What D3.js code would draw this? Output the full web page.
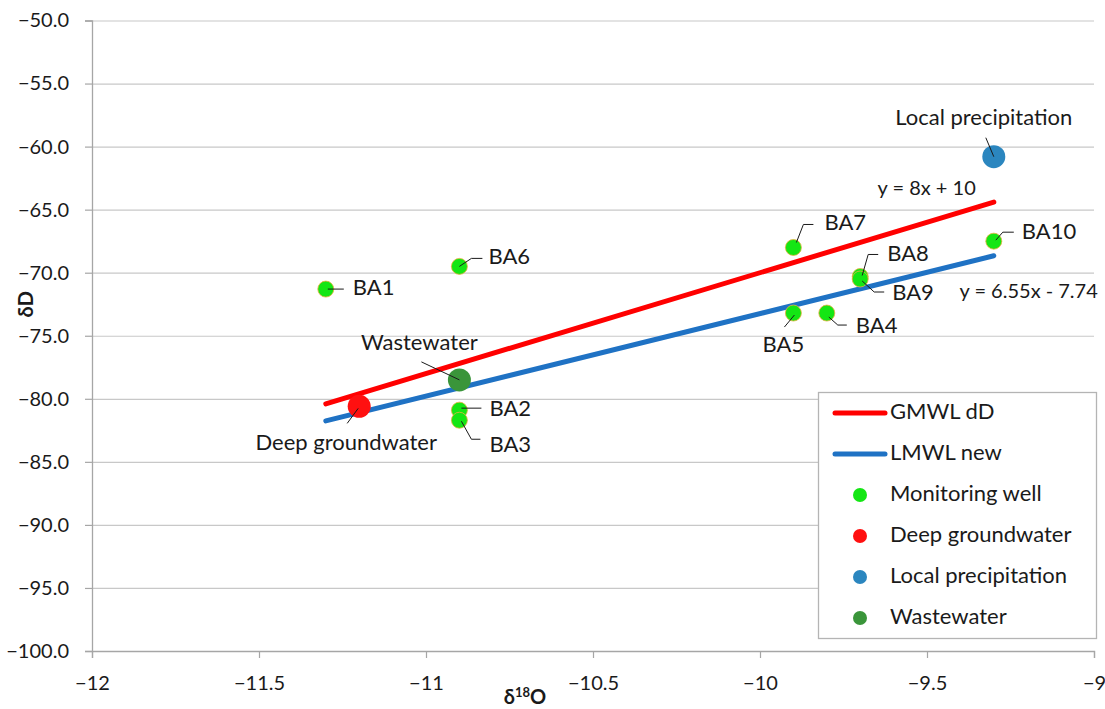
<!DOCTYPE html>
<html>
<head>
<meta charset="utf-8">
<script src="https://cdn.jsdelivr.net/npm/d3@7"></script>
<style>
  body { margin: 0; background: #fff; }
  svg { display: block; font-family: Lato, "Noto Sans", sans-serif; }
</style>
</head>
<body>
<svg id="chart" width="1105" height="709"></svg>
<script>
// Stable isotope samples: δ18O (x) vs δD (y)
const wellNames = ["BA1", "BA2", "BA3", "BA4", "BA5", "BA6", "BA7", "BA8", "BA9", "BA10"];
const wellO18   = [-11.3, -10.9, -10.9, -9.8, -9.9, -10.9, -9.9, -9.7, -9.7, -9.3];
const wellD     = [-71.3, -80.9, -81.7, -73.2, -73.2, -69.5, -68.0, -70.3, -70.5, -67.5];

const endNames = ["Deep groundwater", "Local precipitation", "Wastewater"];
const endO18   = [-11.2, -9.3, -10.9];
const endD     = [-80.6, -60.8, -78.5];

// Meteoric water lines: slope, intercept, x range
const lineNames      = ["GMWL dD", "LMWL new"];
const lineSlopes     = [8, 6.55];
const lineIntercepts = [10, -7.74];
const lineRange      = [-11.3, -9.3];
const lineEquations  = ["y = 8x + 10", "y = 6.55x - 7.74"];

const xTicks = [-12, -11.5, -11, -10.5, -10, -9.5, -9];
const yTicks = [-50, -55, -60, -65, -70, -75, -80, -85, -90, -95, -100];

// ---- styling ----
const colors = {
  "GMWL dD": "#ff0000",
  "LMWL new": "#1f72c4",
  "Monitoring well": "#14e614",
  "Deep groundwater": "#ff1010",
  "Local precipitation": "#2b86bf",
  "Wastewater": "#3a953a"
};
const textColor = "#1a1a1a";
const labelSize = 22;

const svg = d3.select("#chart");
const margin = { left: 92, right: 11, top: 20.5, bottom: 58 };
const W = 1105, H = 709;

const x = d3.scaleLinear().domain([-12, -9]).range([margin.left, W - margin.right]);
const y = d3.scaleLinear().domain([-100, -50]).range([H - margin.bottom, margin.top]);

const minus = s => s.replace(/^[-−]/, "−");

// gridlines
svg.append("g").selectAll("line").data(yTicks.slice(0, -1)).join("line")
  .attr("x1", x(-12)).attr("x2", x(-9))
  .attr("y1", d => y(d) + 0.5).attr("y2", d => y(d) + 0.5)
  .attr("stroke", "#c8c8c8").attr("stroke-width", 1.2);

// y axis
const yAxis = svg.append("g").attr("transform", `translate(${x(-12)},0)`)
  .call(d3.axisLeft(y).tickValues(yTicks).tickSize(7).tickPadding(16)
    .tickFormat(d => minus(d3.format(".1f")(d))));
yAxis.select(".domain").attr("stroke", "#a6a6a6").attr("stroke-width", 1.3);
yAxis.selectAll(".tick line").attr("stroke", "#a6a6a6").attr("stroke-width", 1.2);
yAxis.selectAll(".tick text").attr("font-size", 20).attr("fill", textColor)
  .attr("font-family", "Lato, sans-serif");

// x axis
const xAxis = svg.append("g").attr("transform", `translate(0,${y(-100)})`)
  .call(d3.axisBottom(x).tickValues(xTicks).tickSize(7).tickPadding(18)
    .tickFormat(d => minus(String(d))));
xAxis.select(".domain").attr("stroke", "#a6a6a6").attr("stroke-width", 1.3);
xAxis.selectAll(".tick line").attr("stroke", "#a6a6a6").attr("stroke-width", 1.2);
xAxis.selectAll(".tick text").attr("font-size", 20).attr("fill", textColor)
  .attr("font-family", "Lato, sans-serif");

// axis titles
svg.append("text")
  .attr("transform", `translate(33,${(y(-70) + y(-75)) / 2}) rotate(-90)`)
  .attr("text-anchor", "middle").attr("font-size", 20).attr("font-weight", "bold")
  .attr("fill", textColor).text("δD");
const xt = svg.append("text").attr("x", 525).attr("y", 704)
  .attr("text-anchor", "middle").attr("font-size", 20).attr("font-weight", "bold")
  .attr("fill", textColor);
xt.append("tspan").text("δ");
xt.append("tspan").attr("font-size", 13).attr("dy", -7).text("18");
xt.append("tspan").attr("dy", 7).text("O");

// meteoric water lines
lineNames.forEach((name, i) => {
  const pts = lineRange.map(v => [v, lineSlopes[i] * v + lineIntercepts[i]]);
  svg.append("path")
    .attr("d", d3.line().x(d => x(d[0])).y(d => y(d[1]))(pts))
    .attr("stroke", colors[name]).attr("stroke-width", 5)
    .attr("stroke-linecap", "round").attr("fill", "none");
});

// equation labels, anchored near the upper end of each line
const eqPlace = [{ dy: -12, nudge: -18 }, { dy: 37, nudge: 104 }];
lineEquations.forEach((t, i) => {
  const xe = lineRange[1];
  const ye = lineSlopes[i] * xe + lineIntercepts[i];
  svg.append("text")
    .attr("x", x(xe) + eqPlace[i].nudge).attr("y", y(ye) + eqPlace[i].dy)
    .attr("text-anchor", "end").attr("dominant-baseline", "middle")
    .attr("font-size", 20).attr("fill", textColor).text(t);
});

// label leader lines and text placement (pixel offsets from the point)
const wellLabel = {
  BA1:  { path: [[2, 0], [18, 0]], tx: 27, ty: 0 },
  BA2:  { path: [[2, -2], [22, -2]], tx: 30, ty: 0 },
  BA3:  { path: [[2, 1], [12, 19], [21, 19]], tx: 30, ty: 26 },
  BA4:  { path: [[2, 4], [11, 12], [20, 12]], tx: 29, ty: 14 },
  BA5:  { path: [[1, 2], [-9, 14]], tx: -10, ty: 33, anchor: "middle" },
  BA6:  { path: [[0, 0], [12, -8], [23, -8]], tx: 29, ty: -8 },
  BA7:  { path: [[3, -5], [10, -23], [20, -23]], tx: 31, ty: -23 },
  BA8:  { path: [[2, -1], [8, -22], [18, -22]], tx: 27, ty: -21 },
  BA9:  { path: [[2, 2], [14, 13], [24, 13]], tx: 32, ty: 15 },
  BA10: { path: [[2, -1], [9, -9], [20, -9]], tx: 28, ty: -8 }
};
const endLabel = {
  "Deep groundwater":    { path: [[-1, 2], [-12, 17]], tx: -13, ty: 38, anchor: "middle" },
  "Local precipitation": { path: [[0, 0], [-8, -19]], tx: -10, ty: -37, anchor: "middle" },
  "Wastewater":          { path: [[0, 0], [-38, -18]], tx: -40, ty: -35, anchor: "middle" }
};

function drawLabel(px, py, spec, text) {
  svg.append("path")
    .attr("d", d3.line()(spec.path.map(p => [px + p[0], py + p[1]])))
    .attr("stroke", textColor).attr("stroke-width", 1).attr("fill", "none");
  svg.append("text")
    .attr("x", px + spec.tx).attr("y", py + spec.ty)
    .attr("text-anchor", spec.anchor || "start").attr("dominant-baseline", "middle")
    .attr("font-size", labelSize).attr("fill", textColor).text(text);
}

// end-member points (large)
endNames.forEach((name, i) => {
  svg.append("circle")
    .attr("cx", x(endO18[i])).attr("cy", y(endD[i])).attr("r", 11.5)
    .attr("fill", colors[name]);
});
// monitoring wells
wellNames.forEach((name, i) => {
  svg.append("circle")
    .attr("cx", x(wellO18[i])).attr("cy", y(wellD[i])).attr("r", 8)
    .attr("fill", colors["Monitoring well"])
    .attr("stroke", "#e8b040").attr("stroke-width", 0.8);
});
// labels on top
endNames.forEach((name, i) => drawLabel(x(endO18[i]), y(endD[i]), endLabel[name], name));
wellNames.forEach((name, i) => drawLabel(x(wellO18[i]), y(wellD[i]), wellLabel[name], name));

// legend
const legendItems = [
  { name: "GMWL dD", type: "line" },
  { name: "LMWL new", type: "line" },
  { name: "Monitoring well", type: "dot" },
  { name: "Deep groundwater", type: "dot" },
  { name: "Local precipitation", type: "dot" },
  { name: "Wastewater", type: "dot" }
];
const lg = svg.append("g").attr("transform", "translate(818,392)");
lg.append("rect").attr("x", 0.5).attr("y", 0.5).attr("width", 278).attr("height", 246)
  .attr("fill", "#fff").attr("stroke", "#b4b4b4").attr("stroke-width", 1.3);
legendItems.forEach((it, i) => {
  const ly = 21 + i * 41;
  if (it.type === "line") {
    lg.append("line").attr("x1", 17).attr("x2", 67).attr("y1", ly).attr("y2", ly)
      .attr("stroke", colors[it.name]).attr("stroke-width", 5).attr("stroke-linecap", "round");
  } else {
    lg.append("circle").attr("cx", 42).attr("cy", ly).attr("r", 7)
      .attr("fill", colors[it.name]);
  }
  lg.append("text").attr("x", 72).attr("y", ly).attr("dominant-baseline", "middle")
    .attr("font-size", labelSize).attr("fill", textColor).text(it.name);
});
</script>
</body>
</html>
